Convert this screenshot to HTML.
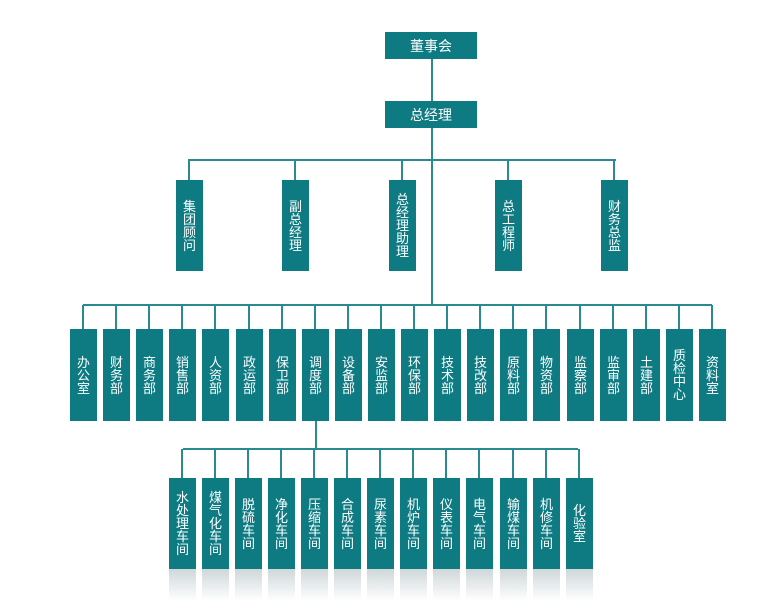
<!DOCTYPE html>
<html><head><meta charset="utf-8"><style>
body{margin:0;width:780px;height:607px;background:#fff;position:relative;overflow:hidden;font-family:"Liberation Sans","Noto Sans CJK SC",sans-serif}
.b{position:absolute;background:#0e7b83;color:#fff;display:flex;align-items:center;justify-content:center;box-sizing:border-box}
.v{display:block;width:14px;font-size:13px;line-height:13px;text-align:center;word-break:break-all}
.h{font-size:14px}
.l{position:absolute;background:#2a8a91}
.r{position:absolute;width:27px;height:32px;background:linear-gradient(#cfd7d9,#fff)}
</style></head><body>
<div class="l" style="left:431px;top:59px;width:2px;height:247px"></div>
<div class="b h" style="left:385px;top:32px;width:92px;height:27px">董事会</div>
<div class="b h" style="left:385px;top:101px;width:92px;height:27px">总经理</div>
<div class="l" style="left:188px;top:159px;width:428px;height:2px"></div>
<div class="l" style="left:83px;top:304px;width:629px;height:2px"></div>
<div class="l" style="left:315px;top:421px;width:2px;height:29px"></div>
<div class="l" style="left:183px;top:448px;width:395px;height:2px"></div>
<script>
var b=document.body;
function add(x,y,w,h,t){var d=document.createElement('div');d.className='b';d.style.cssText='left:'+x+'px;top:'+y+'px;width:'+w+'px;height:'+h+'px';d.innerHTML='<span class="v">'+t+'</span>';b.appendChild(d);}
function ln(x,y,h){var d=document.createElement('div');d.className='l';d.style.cssText='left:'+x+'px;top:'+y+'px;width:2px;height:'+h+'px';b.appendChild(d);}
var r2=[[176,'集团顾问'],[282,'副总经理'],[389,'总经理助理'],[495,'总工程师'],[601,'财务总监']];
r2.forEach(function(a){ln(a[0]+12,160,20);add(a[0],180,27,91,a[1]);});
var r3=['办公室','财务部','商务部','销售部','人资部','政运部','保卫部','调度部','设备部','安监部','环保部','技术部','技改部','原料部','物资部','监察部','监审部','土建部','质检中心','资料室'];
r3.forEach(function(t,i){var x=Math.round(70+i*33.1);ln(x+12,305,24);add(x,329,27,92,t);});
var r4=['水处理车间','煤气化车间','脱硫车间','净化车间','压缩车间','合成车间','尿素车间','机炉车间','仪表车间','电气车间','输煤车间','机修车间','化验室'];
r4.forEach(function(t,i){var x=Math.round(169+i*33.05);ln(x+12,449,29);add(x,478,27,91,t);var r=document.createElement('div');r.className='r';r.style.left=x+'px';r.style.top='569px';b.appendChild(r);});
</script>
</body></html>
